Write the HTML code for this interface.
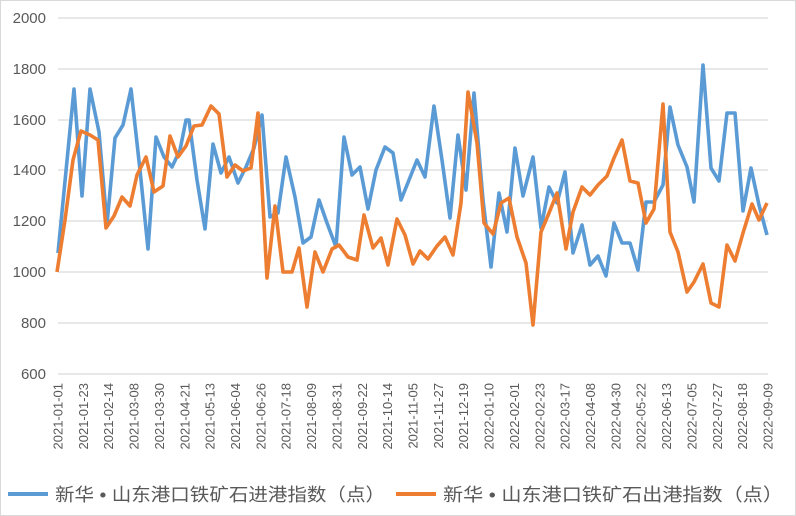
<!DOCTYPE html>
<html><head><meta charset="utf-8"><style>
body{margin:0;background:#fff}
svg{display:block;font-family:"Liberation Sans","Noto Sans CJK SC",sans-serif}
</style></head><body>
<svg width="796" height="516" viewBox="0 0 796 516">
<rect x="0.5" y="0.5" width="795" height="515" fill="#fff" stroke="#d9d9d9"/>
<g stroke="#d9d9d9" stroke-width="1.3">
<line x1="58" x2="768" y1="18" y2="18"/><line x1="58" x2="768" y1="69" y2="69"/>
<line x1="58" x2="768" y1="120" y2="120"/><line x1="58" x2="768" y1="170" y2="170"/>
<line x1="58" x2="768" y1="221" y2="221"/><line x1="58" x2="768" y1="272" y2="272"/>
<line x1="58" x2="768" y1="323" y2="323"/><line x1="58" x2="768" y1="374" y2="374"/>
</g>
<g font-size="15" fill="#595959" text-anchor="end">
<text x="46" y="23">2000</text><text x="46" y="74">1800</text><text x="46" y="125">1600</text>
<text x="46" y="175">1400</text><text x="46" y="226">1200</text><text x="46" y="277">1000</text>
<text x="46" y="328">800</text><text x="46" y="379">600</text>
</g>
<g font-size="13" fill="#595959" text-anchor="end" id="xl"></g>
<polyline fill="none" stroke="#5b9bd5" stroke-width="3.6" stroke-linejoin="round" points="58,253 66,171 74,89 82,196 90,89 99,132 107,224 115,138 123,125 131,89 140,170 148,249 156,137 164,157 172,167 180,150 186,120 189,120 197,180 205,229 213,144 221,173 229,157 238,183 246,167 254,148 262,115 270,217 278,213 286,157 295,197 303,243 311,237 319,200 327,223 336,247 344,137 352,175 360,167 368,209 376,170 385,147 393,153 401,200 409,180 417,160 425,177 434,106 442,160 450,218 458,135 466,190 474,93 483,200 491,267 499,193 507,232 515,148 523,196 533,157 541,228 549,187 557,203 565,172 573,253 582,225 590,265 598,256 606,276 614,223 622,243 630,243 638,270 646,202 654,202 663,185 670,107 678,145 687,167 694,202 703,65 711,168 719,181 727,113 735,113 743,211 751,168 759,205 767,235"/>
<polyline fill="none" stroke="#ed7d31" stroke-width="3.6" stroke-linejoin="round" points="57,272 65,220 73,160 81,131 90,135 98,140 106,228 114,216 122,197 130,206 137,175 146,157 154,192 163,186 170,136 178,157 186,146 194,126 202,125 211,106 219,114 227,177 235,165 243,171 251,168 258,113 267,278 275,206 283,272 292,272 299,248 307,307 315,252 323,272 332,249 339,245 348,257 357,260 364,215 373,248 381,238 388,265 397,219 405,235 413,264 420,251 428,259 437,246 445,237 453,255 461,203 468,92 477,143 484,223 493,234 501,203 509,198 517,237 526,263 533,325 541,232 549,213 557,193 566,249 573,212 582,187 590,195 598,185 607,176 614,158 622,140 630,181 638,183 646,223 654,209 663,104 670,232 678,252 687,292 694,282 703,264 711,303 719,307 727,245 735,261 743,233 752,204 759,220 767,203"/>
<line x1="8" x2="48" y1="494" y2="494" stroke="#5b9bd5" stroke-width="4"/>
<text x="55" y="501" font-size="18" fill="#595959" textLength="330" lengthAdjust="spacingAndGlyphs">新华 • 山东港口铁矿石进港指数（点）</text>
<line x1="396" x2="436" y1="494" y2="494" stroke="#ed7d31" stroke-width="4"/>
<text x="443" y="501" font-size="18" fill="#595959" textLength="340" lengthAdjust="spacingAndGlyphs">新华 • 山东港口铁矿石出港指数（点）</text>
</svg>
<script>
var d=["2021-01-01","2021-01-23","2021-02-14","2021-03-08","2021-03-30","2021-04-21","2021-05-13","2021-06-04","2021-06-26","2021-07-18","2021-08-09","2021-08-31","2021-09-22","2021-10-14","2021-11-05","2021-11-27","2021-12-19","2022-01-10","2022-02-01","2022-02-23","2022-03-17","2022-04-08","2022-04-30","2022-05-22","2022-06-13","2022-07-05","2022-07-27","2022-08-18","2022-09-09"];
var g=document.getElementById('xl'),s='';
for(var i=0;i<d.length;i++){var x=58+i*(710/28)+4.5;s+='<text transform="translate('+x.toFixed(1)+',383) rotate(-90)">'+d[i]+'</text>';}
g.innerHTML=s;
</script>
</body></html>
